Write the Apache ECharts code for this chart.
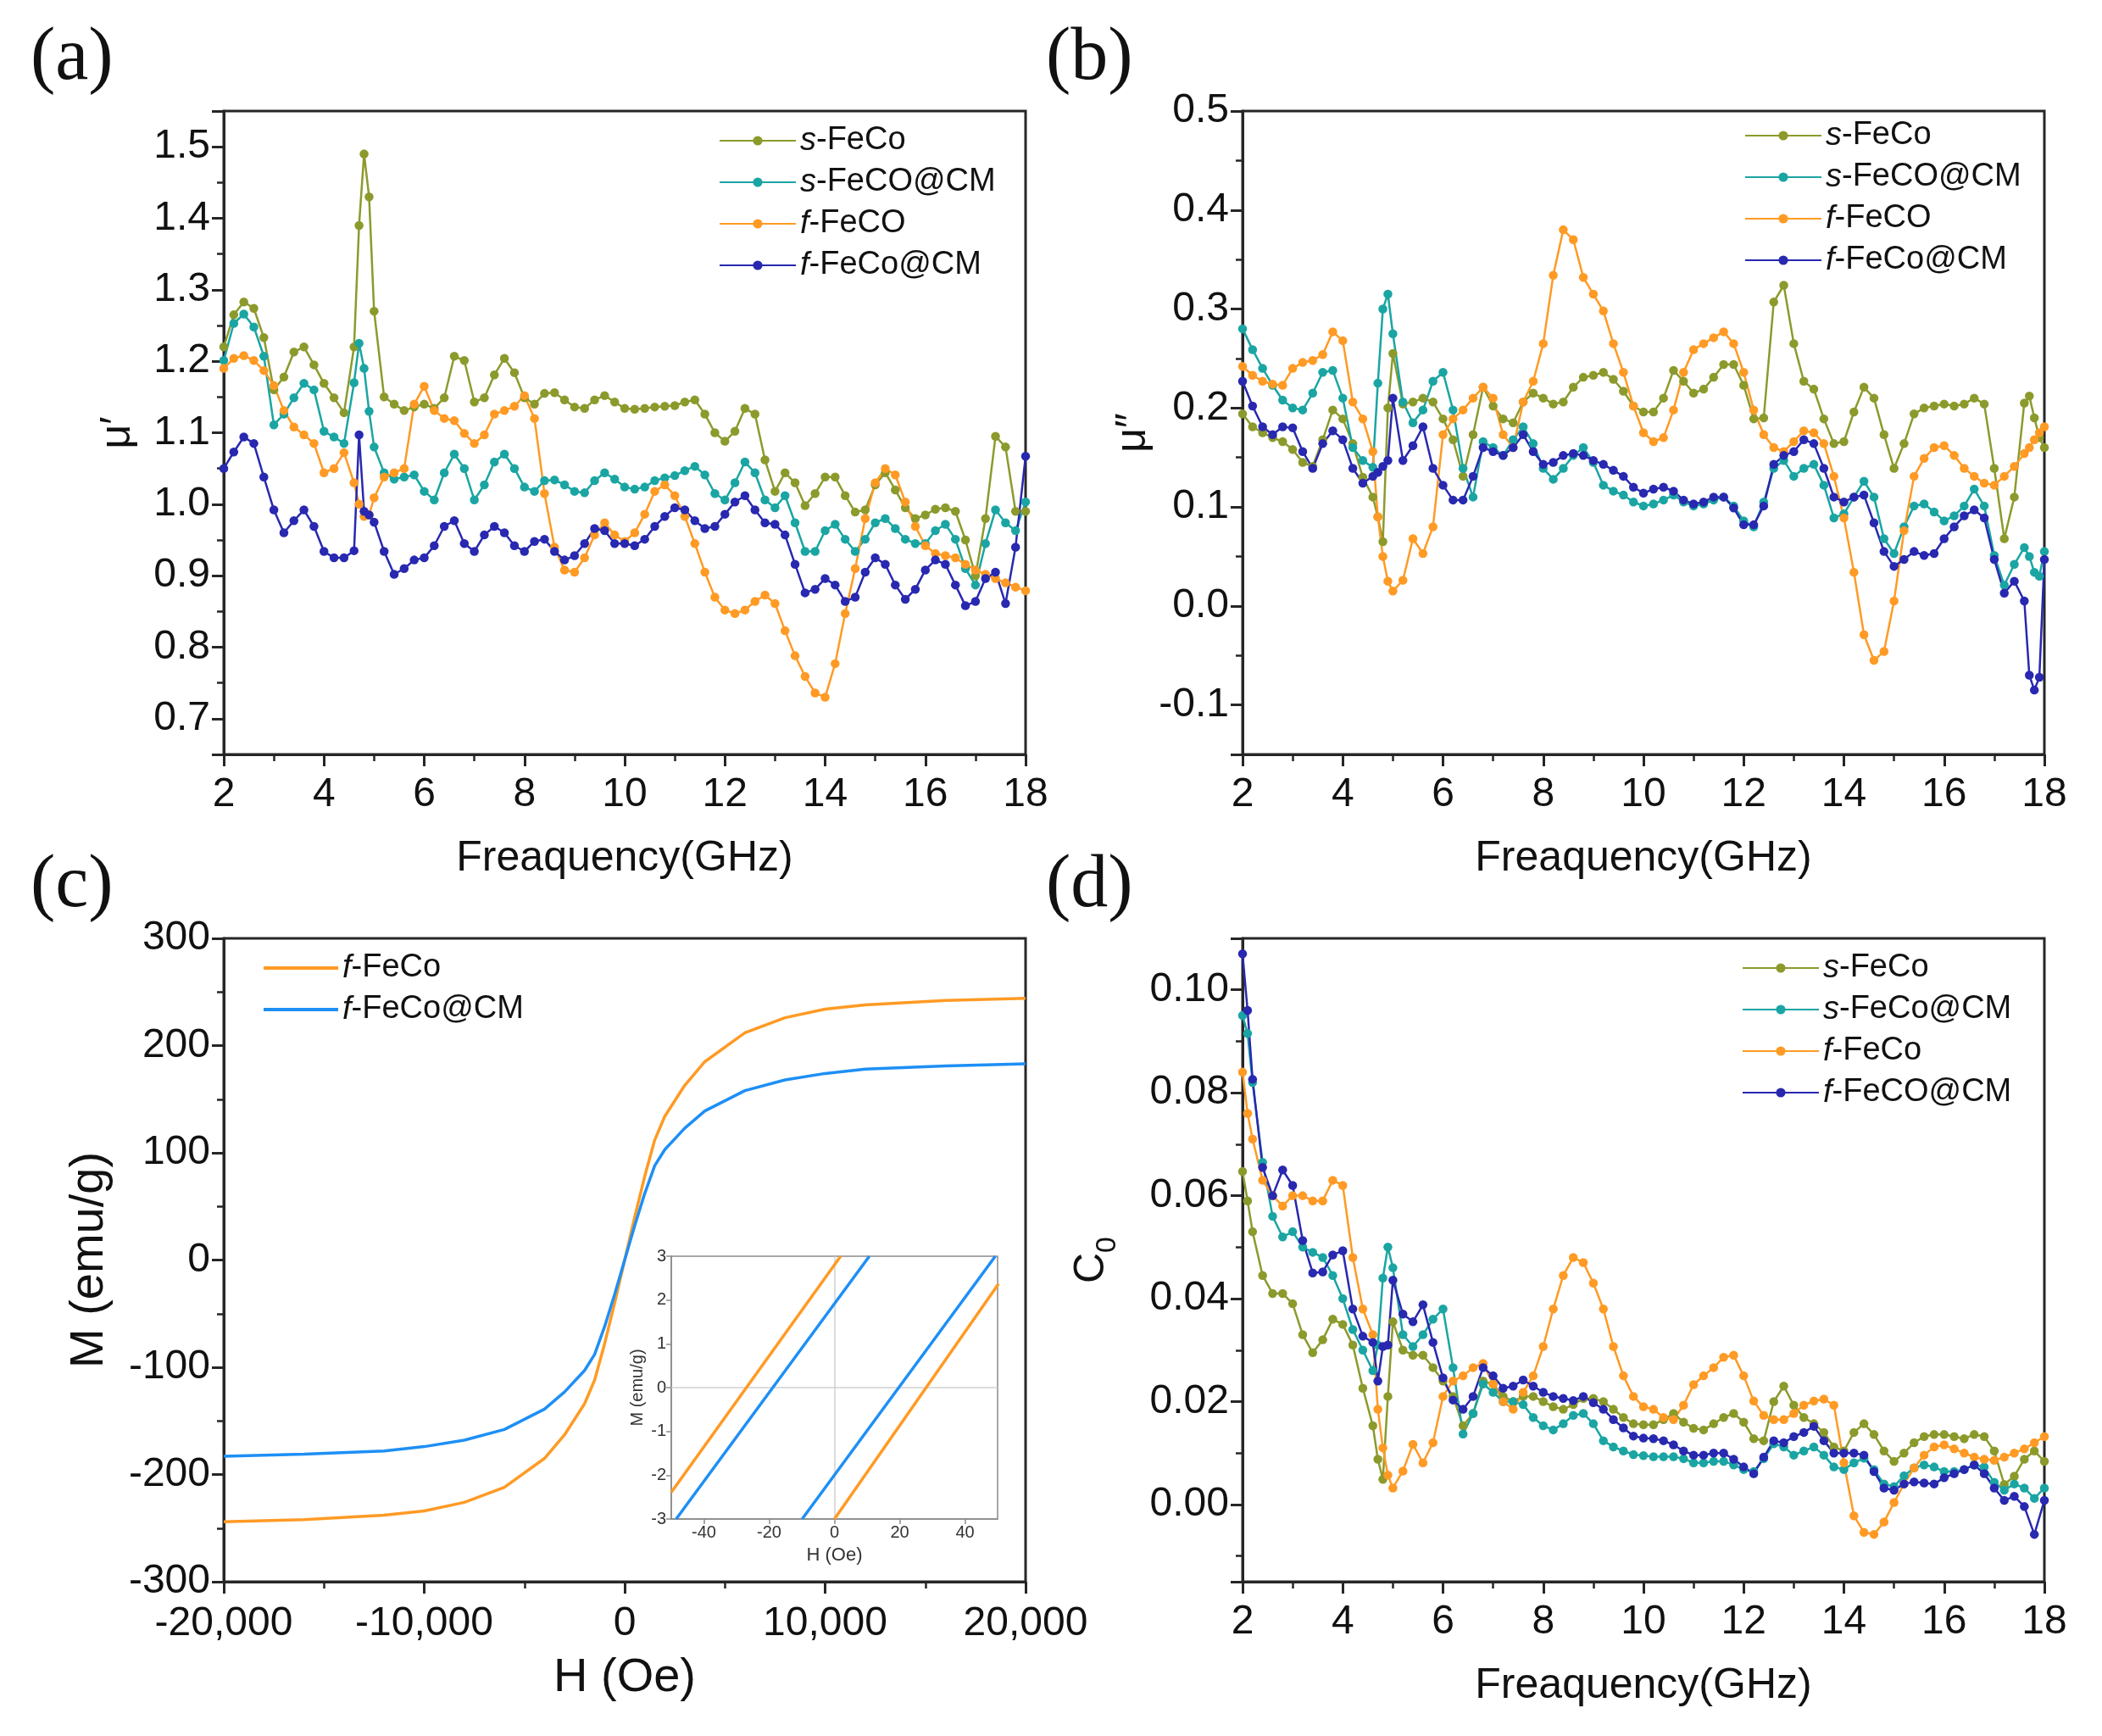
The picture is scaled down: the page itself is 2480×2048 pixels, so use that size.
<!DOCTYPE html>
<html><head><meta charset="utf-8">
<script src="https://cdn.jsdelivr.net/npm/echarts@6/dist/echarts.min.js"></script>
<style>html,body{margin:0;padding:0;background:#fff}#c{width:2480px;height:2048px}</style>
</head><body><div id="c"></div>
<script>
// ---------- frequency grids (GHz) ----------
const freqA = [2,2.2,2.4,2.6,2.8,3,3.2,3.4,3.6,3.8,
  4,4.2,4.4,4.6,4.7,4.8,4.9,5,5.2,5.4,
  5.6,5.8,6,6.2,6.4,6.6,6.8,7,7.2,7.4,
  7.6,7.8,8,8.2,8.4,8.6,8.8,9,9.2,9.4,
  9.6,9.8,10,10.2,10.4,10.6,10.8,11,11.2,11.4,
  11.6,11.8,12,12.2,12.4,12.6,12.8,13,13.2,13.4,
  13.6,13.8,14,14.2,14.4,14.6,14.8,15,15.2,15.4,
  15.6,15.8,16,16.2,16.4,16.6,16.8,17,17.2,17.4,
  17.6,17.8,18];
const freqB = [2,2.2,2.4,2.6,2.8,3,3.2,3.4,3.6,3.8,
  4,4.2,4.4,4.6,4.7,4.8,4.9,5,5.2,5.4,
  5.6,5.8,6,6.2,6.4,6.6,6.8,7,7.2,7.4,
  7.6,7.8,8,8.2,8.4,8.6,8.8,9,9.2,9.4,
  9.6,9.8,10,10.2,10.4,10.6,10.8,11,11.2,11.4,
  11.6,11.8,12,12.2,12.4,12.6,12.8,13,13.2,13.4,
  13.6,13.8,14,14.2,14.4,14.6,14.8,15,15.2,15.4,
  15.6,15.8,16,16.2,16.4,16.6,16.8,17,17.2,17.4,
  17.6,17.7,17.8,17.9,18];
const freqD = [2,2.1,2.2,2.4,2.6,2.8,3,3.2,3.4,3.6,
  3.8,4,4.2,4.4,4.6,4.7,4.8,4.9,5,5.2,
  5.4,5.6,5.8,6,6.2,6.4,6.6,6.8,7,7.2,
  7.4,7.6,7.8,8,8.2,8.4,8.6,8.8,9,9.2,
  9.4,9.6,9.8,10,10.2,10.4,10.6,10.8,11,11.2,
  11.4,11.6,11.8,12,12.2,12.4,12.6,12.8,13,13.2,
  13.4,13.6,13.8,14,14.2,14.4,14.6,14.8,15,15.2,
  15.4,15.6,15.8,16,16.2,16.4,16.6,16.8,17,17.2,
  17.4,17.6,17.8,18];

// ---------- (a) mu' ----------
const muS1 = [1.22,1.265,1.283,1.274,1.233,1.16,1.178,1.213,1.22,1.195,
  1.169,1.149,1.128,1.22,1.39,1.49,1.43,1.27,1.15,1.14,
  1.131,1.136,1.14,1.134,1.149,1.207,1.201,1.143,1.149,1.181,
  1.204,1.184,1.149,1.14,1.155,1.156,1.146,1.136,1.134,1.146,
  1.152,1.143,1.134,1.133,1.134,1.136,1.137,1.138,1.143,1.146,
  1.126,1.1,1.088,1.102,1.134,1.126,1.062,1.018,1.044,1.03,
  0.998,1.015,1.038,1.038,1.012,0.989,0.992,1.027,1.044,1.02,
  0.995,0.98,0.985,0.993,0.995,0.99,0.95,0.9,0.98,1.095,
  1.08,0.99,0.99];
const muS2 = [1.201,1.253,1.266,1.248,1.207,1.111,1.126,1.149,1.169,1.16,
  1.102,1.094,1.085,1.17,1.225,1.19,1.13,1.08,1.044,1.035,
  1.038,1.041,1.018,1.006,1.044,1.07,1.05,1.006,1.027,1.059,
  1.07,1.05,1.024,1.018,1.033,1.034,1.027,1.018,1.016,1.033,
  1.044,1.035,1.024,1.021,1.024,1.033,1.037,1.04,1.047,1.053,
  1.041,1.015,1.006,1.03,1.059,1.044,1.006,0.995,1.012,0.974,
  0.934,0.934,0.963,0.972,0.951,0.934,0.951,0.974,0.98,0.966,
  0.951,0.945,0.945,0.963,0.972,0.951,0.91,0.887,0.945,0.992,
  0.974,0.963,1.003];
const muF1 = [1.19,1.204,1.208,1.201,1.187,1.166,1.131,1.108,1.097,1.085,
  1.044,1.05,1.072,1.03,1.0,0.983,0.985,1.009,1.038,1.044,
  1.05,1.14,1.165,1.131,1.12,1.117,1.099,1.085,1.097,1.126,
  1.131,1.137,1.152,1.12,1.015,0.94,0.908,0.905,0.925,0.957,
  0.974,0.957,0.948,0.96,0.986,1.018,1.027,1.012,0.983,0.945,
  0.905,0.87,0.852,0.847,0.852,0.864,0.873,0.861,0.823,0.788,
  0.759,0.736,0.73,0.777,0.847,0.91,0.98,1.03,1.05,1.041,
  1.003,0.969,0.942,0.931,0.928,0.925,0.916,0.908,0.902,0.896,
  0.89,0.884,0.879];
const muF2 = [1.05,1.073,1.094,1.085,1.038,0.992,0.96,0.977,0.992,0.969,
  0.934,0.925,0.925,0.935,1.097,0.99,0.985,0.975,0.934,0.902,
  0.91,0.922,0.925,0.942,0.969,0.977,0.945,0.934,0.957,0.969,
  0.96,0.942,0.934,0.948,0.951,0.934,0.922,0.928,0.945,0.966,
  0.963,0.945,0.945,0.942,0.951,0.969,0.983,0.995,0.992,0.977,
  0.966,0.969,0.986,1.003,1.012,0.992,0.974,0.972,0.957,0.916,
  0.876,0.881,0.896,0.887,0.864,0.87,0.905,0.925,0.916,0.887,
  0.867,0.881,0.908,0.922,0.916,0.887,0.858,0.864,0.896,0.905,
  0.861,0.94,1.067];

// ---------- (b) mu'' ----------
const muppS1 = [0.194,0.181,0.175,0.17,0.166,0.158,0.145,0.141,0.168,0.198,
  0.189,0.164,0.13,0.11,0.09,0.065,0.2,0.255,0.204,0.206,
  0.21,0.206,0.189,0.168,0.131,0.173,0.221,0.202,0.189,0.185,
  0.206,0.215,0.21,0.204,0.206,0.221,0.231,0.233,0.236,0.229,
  0.217,0.202,0.196,0.196,0.21,0.238,0.227,0.215,0.219,0.231,
  0.244,0.244,0.223,0.189,0.19,0.307,0.324,0.265,0.227,0.219,
  0.189,0.164,0.166,0.196,0.221,0.21,0.173,0.139,0.164,0.194,
  0.2,0.202,0.204,0.202,0.204,0.21,0.204,0.139,0.068,0.11,
  0.205,0.212,0.19,0.17,0.16];
const muppS2 = [0.28,0.259,0.24,0.223,0.208,0.2,0.198,0.215,0.236,0.238,
  0.21,0.16,0.147,0.14,0.225,0.30,0.315,0.275,0.206,0.185,
  0.198,0.227,0.236,0.198,0.139,0.11,0.166,0.16,0.152,0.168,
  0.181,0.164,0.139,0.128,0.139,0.152,0.16,0.145,0.122,0.116,
  0.112,0.105,0.101,0.103,0.107,0.112,0.105,0.101,0.103,0.107,
  0.11,0.101,0.086,0.08,0.105,0.139,0.147,0.131,0.139,0.143,
  0.122,0.089,0.093,0.11,0.126,0.11,0.068,0.053,0.08,0.101,
  0.103,0.095,0.086,0.091,0.101,0.118,0.101,0.051,0.021,0.042,
  0.059,0.05,0.034,0.03,0.055];
const muppF1 = [0.242,0.233,0.227,0.224,0.223,0.24,0.246,0.248,0.254,0.277,
  0.268,0.206,0.189,0.156,0.09,0.05,0.025,0.015,0.026,0.068,
  0.053,0.08,0.173,0.189,0.198,0.21,0.221,0.21,0.173,0.16,
  0.206,0.227,0.265,0.334,0.38,0.37,0.332,0.315,0.298,0.265,
  0.236,0.202,0.175,0.166,0.17,0.198,0.236,0.259,0.265,0.271,
  0.277,0.265,0.236,0.198,0.173,0.16,0.156,0.166,0.177,0.175,
  0.164,0.131,0.089,0.034,-0.029,-0.055,-0.046,0.005,0.076,0.131,
  0.149,0.16,0.162,0.152,0.139,0.131,0.124,0.122,0.131,0.141,
  0.154,0.16,0.168,0.175,0.181];
const muppF2 = [0.227,0.202,0.181,0.173,0.181,0.18,0.156,0.139,0.164,0.177,
  0.168,0.139,0.124,0.131,0.135,0.141,0.147,0.21,0.147,0.162,
  0.181,0.139,0.122,0.107,0.107,0.131,0.16,0.156,0.152,0.16,
  0.173,0.156,0.143,0.145,0.152,0.154,0.152,0.147,0.143,0.137,
  0.131,0.12,0.114,0.118,0.12,0.116,0.107,0.103,0.105,0.11,
  0.11,0.099,0.082,0.082,0.101,0.143,0.152,0.156,0.168,0.164,
  0.139,0.11,0.105,0.11,0.112,0.084,0.055,0.04,0.047,0.055,
  0.051,0.053,0.068,0.08,0.091,0.097,0.089,0.047,0.013,0.025,
  0.005,-0.07,-0.085,-0.072,0.047];

// ---------- (c) M-H loop ----------
const hysH = [-20000,-16000,-12000,-10000,-8000,-6000,-4000,-3000,-2000,-1500,-1000,-500,0,
  500,1000,1500,2000,3000,4000,6000,8000,10000,12000,16000,20000];
const magF = [-244,-242,-238,-234,-226,-212,-185,-163,-134,-112,-78,-40,0,
  40,78,112,134,163,185,212,226,234,238,242,244];
const magFC = [-183,-181,-178,-174,-168,-158,-139,-123,-103,-88,-62,-32,0,
  32,62,88,103,123,139,158,168,174,178,181,183];
// inset: low-field branches (H in Oe, M in emu/g)
const insetF_downH = [-50, 1.9],    insetF_downM = [-2.39, 3];
const insetF_upH   = [0, 50.3],     insetF_upM   = [-3, 2.37];
const insetC_downH = [-48.5, 10.7], insetC_downM = [-3, 3];
const insetC_upH   = [-9.9, 49.3],  insetC_upM   = [-3, 3];

// ---------- (d) C0 ----------
const c0S1 = [0.0647,0.059,0.053,0.0445,0.041,0.041,0.039,0.033,0.0295,0.032,
  0.036,0.035,0.031,0.0226,0.0153,0.0088,0.0049,0.021,0.0355,0.03,
  0.029,0.029,0.0266,0.024,0.021,0.0153,0.0177,0.024,0.0234,0.021,
  0.02,0.021,0.021,0.02,0.019,0.0185,0.0194,0.0206,0.0206,0.02,
  0.0185,0.0169,0.0157,0.0155,0.0155,0.0165,0.0177,0.016,0.0148,0.0145,
  0.0157,0.0169,0.0177,0.016,0.0128,0.0124,0.02,0.023,0.0193,0.0169,
  0.0157,0.014,0.0112,0.0104,0.014,0.0157,0.0136,0.0104,0.0084,0.01,
  0.012,0.0132,0.0136,0.0136,0.0132,0.0128,0.0136,0.0132,0.0104,0.0039,
  0.0055,0.0088,0.0104,0.0084];
const c0S2 = [0.095,0.0915,0.082,0.0665,0.056,0.052,0.053,0.05,0.049,0.048,
  0.0445,0.04,0.034,0.03,0.026,0.031,0.044,0.05,0.046,0.033,
  0.0307,0.033,0.036,0.038,0.0266,0.0137,0.0177,0.0234,0.0218,0.02,
  0.02,0.0194,0.0169,0.0153,0.0145,0.0157,0.0173,0.0177,0.0157,0.0124,
  0.0112,0.0104,0.0097,0.0095,0.0093,0.0093,0.0093,0.0089,0.0081,0.0081,
  0.0084,0.0084,0.0077,0.0068,0.0064,0.0089,0.0118,0.0112,0.0096,0.0104,
  0.0112,0.0096,0.0073,0.0068,0.0081,0.009,0.0068,0.004,0.0035,0.0056,
  0.0071,0.0077,0.0073,0.0064,0.0064,0.0068,0.0077,0.0073,0.0043,0.0028,
  0.004,0.0032,0.0012,0.0032];
const c0F1 = [0.084,0.076,0.071,0.063,0.06,0.058,0.06,0.06,0.059,0.059,
  0.063,0.062,0.048,0.038,0.033,0.0185,0.011,0.0057,0.0032,0.0065,
  0.0117,0.0081,0.012,0.021,0.024,0.025,0.0266,0.0274,0.0234,0.02,
  0.0185,0.0218,0.025,0.0307,0.038,0.0445,0.048,0.047,0.043,0.038,
  0.0307,0.025,0.021,0.019,0.0185,0.0169,0.0165,0.0193,0.0233,0.025,
  0.0266,0.0286,0.029,0.025,0.0201,0.0173,0.0165,0.0165,0.0177,0.0193,
  0.0201,0.0205,0.0193,0.0081,-0.0022,-0.0054,-0.0058,-0.0034,0.0004,0.004,
  0.0071,0.0096,0.0112,0.0116,0.0108,0.01,0.0092,0.0088,0.0086,0.0092,
  0.01,0.0108,0.012,0.0132];
const c0F2 = [0.107,0.096,0.0826,0.0655,0.06,0.065,0.062,0.0513,0.045,0.0452,
  0.0485,0.0493,0.038,0.0327,0.0315,0.024,0.0307,0.031,0.0436,0.037,
  0.0355,0.0388,0.0315,0.0246,0.0203,0.0185,0.021,0.0266,0.025,0.0226,
  0.023,0.0242,0.023,0.0218,0.021,0.0206,0.0202,0.021,0.0198,0.0185,
  0.0165,0.0149,0.0133,0.0129,0.0128,0.0124,0.0116,0.0104,0.0096,0.0096,
  0.01,0.01,0.0088,0.0073,0.006,0.0092,0.0124,0.012,0.0132,0.014,
  0.0152,0.0124,0.01,0.01,0.01,0.0096,0.0064,0.0032,0.0028,0.004,
  0.0044,0.0042,0.004,0.0052,0.006,0.0068,0.0077,0.006,0.0032,0.0008,
  0.0016,-0.0004,-0.0058,0.0008];

// ---------- labels ----------
const namesA = ['s-FeCo','s-FeCO@CM','f-FeCO','f-FeCo@CM'];
const namesB = ['s-FeCo','s-FeCO@CM','f-FeCO','f-FeCo@CM'];
const namesD = ['s-FeCo','s-FeCo@CM','f-FeCo','f-FeCO@CM'];
const namesC = ['f-FeCo','f-FeCo@CM'];
const colors4 = ['#8C9A2C','#1AA5A3','#FF9A24','#2828B0'];
const colorsC = ['#FF9A24','#1E8FF5'];

// ---------- helpers ----------
const FONT = 'Liberation Sans';
const AX = '#262626';
function merge(a, b) {
  const out = Array.isArray(a) ? a.slice() : Object.assign({}, a);
  for (const k in b) {
    if (b[k] && typeof b[k] === 'object' && !Array.isArray(b[k]) && a[k] && typeof a[k] === 'object') out[k] = merge(a[k], b[k]);
    else out[k] = b[k];
  }
  return out;
}
function vAxis(o) {
  return merge({
    type: 'value',
    axisLine: {show: true, onZero: false, lineStyle: {color: AX, width: 3}},
    axisTick: {show: true, inside: false, length: 14, lineStyle: {color: AX, width: 3}},
    minorTick: {show: true, splitNumber: 2, length: 8, lineStyle: {color: AX, width: 2.5}},
    splitLine: {show: false}, minorSplitLine: {show: false},
    axisLabel: {color: '#111', fontSize: 48, fontFamily: FONT, margin: 16},
    nameLocation: 'middle',
    nameTextStyle: {color: '#111', fontSize: 50, fontFamily: FONT}
  }, o);
}
function pairs(xs, ys) { return xs.map((x, i) => [x, ys[i]]); }
function symSeries(panel, name, xs, ys, color, ai) {
  return {
    type: 'line', name: panel + '|' + name, xAxisIndex: ai, yAxisIndex: ai,
    data: pairs(xs, ys), symbol: 'circle', symbolSize: 10.5, showSymbol: true,
    lineStyle: {color: color, width: 2.5}, itemStyle: {color: color},
    animation: false, clip: true
  };
}
const legendFmt = n => { const t = n.split('|')[1]; return '{i|' + t[0] + '}' + t.slice(1); };
function legend(left, top, panel, names, iw, extra) {
  return Object.assign({
    left: left, top: top, orient: 'vertical', itemWidth: iw, itemHeight: 14, itemGap: 9,
    selectedMode: false, padding: 0,
    data: names.map(n => panel + '|' + n), formatter: legendFmt,
    textStyle: {fontSize: 38, fontFamily: FONT, color: '#111', lineHeight: 40,
      rich: {i: {fontStyle: 'italic', fontSize: 38, fontFamily: FONT, color: '#111', lineHeight: 40}}}
  }, extra || {});
}
const titleStyle = {fontFamily: 'Liberation Serif', fontSize: 88, fontWeight: 'normal', color: '#111'};

const gridBox = {show: true, borderColor: AX, borderWidth: 3, containLabel: false};
const xFreq = gi => vAxis({gridIndex: gi, min: 2, max: 18, interval: 2,
  axisLabel: {margin: 24}, name: 'Freaquency(GHz)', nameGap: 98});

const series = [];
const dA = [muS1, muS2, muF1, muF2], dB = [muppS1, muppS2, muppF1, muppF2], dD = [c0S1, c0S2, c0F1, c0F2];
namesA.forEach((n, k) => series.push(symSeries('a', n, freqA, dA[k], colors4[k], 0)));
namesB.forEach((n, k) => series.push(symSeries('b', n, freqB, dB[k], colors4[k], 1)));
[magF, magFC].forEach((m, k) => series.push({
  type: 'line', name: 'c|' + namesC[k], xAxisIndex: 2, yAxisIndex: 2, data: pairs(hysH, m),
  symbol: 'none', showSymbol: false, lineStyle: {color: colorsC[k], width: 3.5}, itemStyle: {color: colorsC[k]}, animation: false
}));
namesD.forEach((n, k) => series.push(symSeries('d', n, freqD, dD[k], colors4[k], 3)));
const insetSets = [[insetF_downH, insetF_downM, 0], [insetF_upH, insetF_upM, 0], [insetC_downH, insetC_downM, 1], [insetC_upH, insetC_upM, 1]];
insetSets.forEach((s, k) => series.push({
  type: 'line', name: 'inset' + k, xAxisIndex: 4, yAxisIndex: 4, data: pairs(s[0], s[1]), z: 20,
  symbol: 'none', showSymbol: false, lineStyle: {color: colorsC[s[2]], width: 3.5}, itemStyle: {color: colorsC[s[2]]},
  animation: false, clip: true,
  markLine: k === 0 ? {silent: true, symbol: 'none', label: {show: false}, animation: false,
    lineStyle: {color: '#d0d0d0', width: 1.5, type: 'solid'}, data: [{xAxis: 0}, {yAxis: 0}]} : undefined
}));

const option = {
  backgroundColor: '#fff',
  animation: false,
  title: [
    {text: '(a)', left: 36, top: 26, padding: 0, textStyle: titleStyle},
    {text: '(b)', left: 1234, top: 26, padding: 0, textStyle: titleStyle},
    {text: '(c)', left: 36, top: 1002, padding: 0, textStyle: titleStyle},
    {text: '(d)', left: 1234, top: 1002, padding: 0, textStyle: titleStyle}
  ],
  grid: [
    Object.assign({left: 264, top: 131, width: 946, height: 759}, gridBox),
    Object.assign({left: 1466, top: 131, width: 946, height: 759}, gridBox),
    Object.assign({left: 264, top: 1107, width: 946, height: 759}, gridBox),
    Object.assign({left: 1466, top: 1107, width: 946, height: 759}, gridBox),
    {left: 792, top: 1482, width: 385, height: 310, show: true, borderColor: '#8a8a8a', borderWidth: 1.5, backgroundColor: '#fff'}
  ],
  xAxis: [
    xFreq(0), xFreq(1),
    vAxis({gridIndex: 2, min: -20000, max: 20000, interval: 10000,
      axisLabel: {margin: 26, fontSize: 48, formatter: v => Number(v).toLocaleString('en-US')},
      name: 'H (Oe)', nameGap: 86, nameTextStyle: {fontSize: 56}}),
    xFreq(3),
    vAxis({gridIndex: 4, min: -50, max: 50, splitNumber: 5,
      axisLine: {lineStyle: {color: '#8a8a8a', width: 1.5}},
      axisTick: {length: 6, lineStyle: {color: '#8a8a8a', width: 1.5}},
      minorTick: {show: false},
      axisLabel: {fontSize: 20, margin: 6, color: '#333', showMinLabel: false, showMaxLabel: false},
      name: 'H (Oe)', nameGap: 32, nameTextStyle: {fontSize: 22, color: '#333'}})
  ],
  yAxis: [
    vAxis({gridIndex: 0, min: 0.65, max: 1.55, splitNumber: 9,
      axisLabel: {formatter: v => Number(v).toFixed(1), showMinLabel: false, showMaxLabel: false},
      name: 'μ′', nameGap: 100, nameRotate: 90}),
    vAxis({gridIndex: 1, min: -0.15, max: 0.5, splitNumber: 7,
      axisLabel: {formatter: v => Number(v).toFixed(1), showMinLabel: false},
      name: 'μ″', nameGap: 104, nameRotate: 90}),
    vAxis({gridIndex: 2, min: -300, max: 300, interval: 100,
      axisLabel: {fontSize: 48, margin: 16},
      name: 'M (emu/g)', nameGap: 130, nameRotate: 90, nameTextStyle: {fontSize: 56}}),
    vAxis({gridIndex: 3, min: -0.015, max: 0.11, splitNumber: 6,
      axisLabel: {formatter: v => Number(v).toFixed(2), showMinLabel: false, showMaxLabel: false},
      name: '{c|C}{s|0}', nameGap: 142, nameRotate: 90,
      nameTextStyle: {rich: {
        c: {fontSize: 50, fontFamily: FONT, color: '#111', lineHeight: 72, verticalAlign: 'middle'},
        s: {fontSize: 34, fontFamily: FONT, color: '#111', lineHeight: 72, verticalAlign: 'bottom'}}}}),
    vAxis({gridIndex: 4, min: -3, max: 3, interval: 1,
      axisLine: {lineStyle: {color: '#8a8a8a', width: 1.5}},
      axisTick: {length: 6, lineStyle: {color: '#8a8a8a', width: 1.5}},
      minorTick: {show: false},
      axisLabel: {fontSize: 20, margin: 6, color: '#333'},
      name: 'M (emu/g)', nameGap: 30, nameRotate: 90, nameTextStyle: {fontSize: 20, color: '#333'}})
  ],
  legend: [
    legend(848, 146, 'a', namesA, 90),
    legend(2058, 140, 'b', namesB, 90),
    legend(311, 1122, 'c', namesC, 88, {icon: 'rect', itemHeight: 4}),
    legend(2055, 1122, 'd', namesD, 90)
  ],
  series: series
};
const chart = echarts.init(document.getElementById('c'), null, {renderer: 'canvas', width: 2480, height: 2048});
chart.setOption(option);
</script>
</body></html>
